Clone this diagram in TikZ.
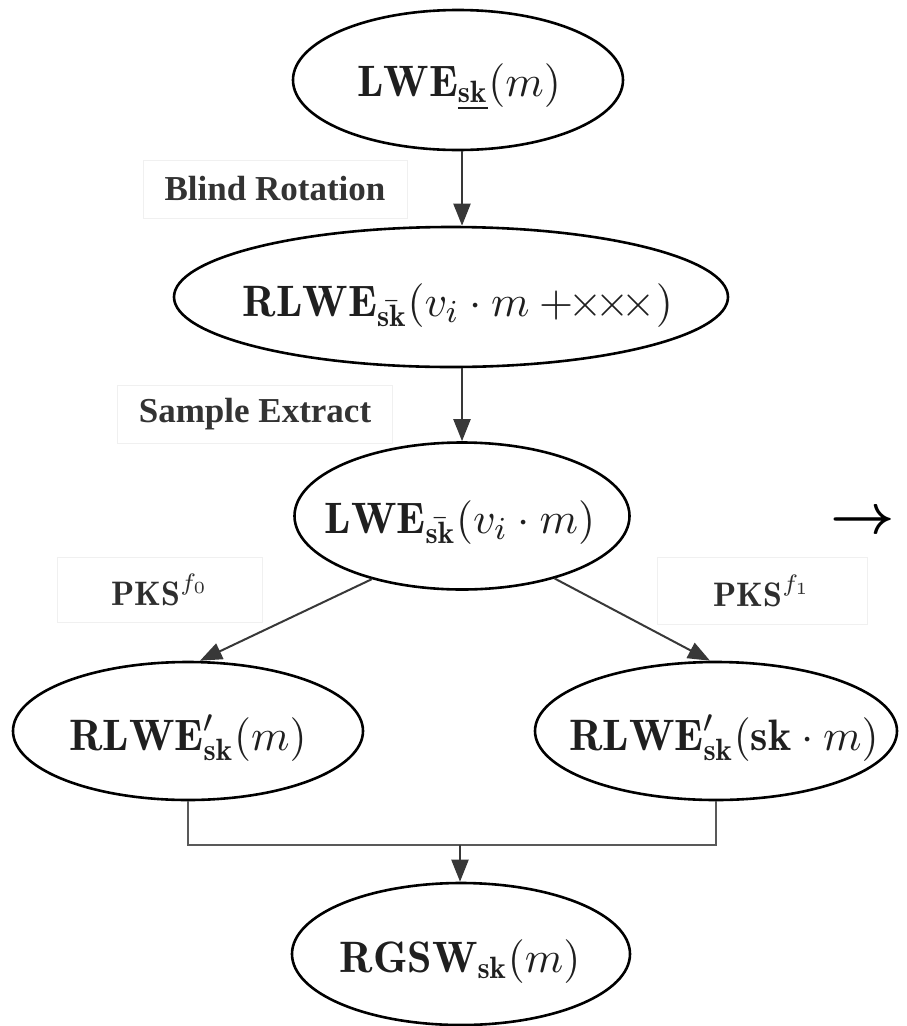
\documentclass[tikz,border=0pt]{standalone}
\usepackage{fontspec}
\usepackage{amsmath}
\usepackage{graphicx}
\newfontfamily\lblfont{Liberation Serif}
\newcommand{\mtxt}[1]{\scalebox{4}{\fontsize{11}{13}\selectfont #1}}
\newcommand{\ptxt}[1]{\scalebox{3.4}{\fontsize{10}{12}\selectfont #1}}
\usetikzlibrary{shapes.geometric,arrows.meta}
\begin{document}
\begin{tikzpicture}[x=1pt,y=-1pt,
  ell/.style 2 args={ellipse, draw=black, line width=2.6pt, minimum width=#1, minimum height=#2, inner sep=0pt},
  mtext/.style={text=black!88, anchor=base, inner sep=0pt},
  lbl/.style={draw=black!6, line width=1pt, font=\lblfont\bfseries\fontsize{35}{40}\selectfont, text=black!80, inner sep=0pt},
  pks/.style={draw=black!6, line width=1pt, text=black!82, inner sep=0pt},
  arr/.style={-{Triangle[length=22pt,width=17pt]}, line width=2pt, draw=black!78, fill=black!78},
  conn/.style={line width=2pt, draw=black!65}]
\useasboundingbox (0,0) rectangle (906,1026);
% nodes
\node[ell={330pt}{140pt}] (n1) at (458,80) {};
\node[mtext] (t1) at (459,96) {\mtxt{$\mathbf{LWE}_{\underline{\mathbf{sk}}}(m)$}};
\node[ell={554pt}{140pt}] (n2) at (451,297) {};
\node[mtext] (t2) at (458,316) {\mtxt{$\mathbf{RLWE}_{\bar{\mathbf{sk}}}(v_i\cdot m\mskip\medmuskip{+}\mkern-2mu{\times}\mkern-3mu{\times}\mkern-3mu{\times})$}};
\node[ell={335pt}{147pt}] (n3) at (462,516) {};
\node[mtext] (t3) at (460,533) {\mtxt{$\mathbf{LWE}_{\bar{\mathbf{sk}}}(v_i\cdot m)$}};
\node[ell={350pt}{138pt}] (n4) at (188,731) {};
\node[mtext] (t4) at (188,750) {\mtxt{$\mathbf{RLWE}'_{\mathbf{sk}}(m)$}};
\node[ell={362pt}{138pt}] (n5) at (716,731) {};
\node[mtext] (t5) at (724,750) {\mtxt{$\mathbf{RLWE}'_{\mathbf{sk}}(\mathbf{sk}\cdot m)$}};
\node[ell={338pt}{142pt}] (n6) at (461,954) {};
\node[mtext] (t6) at (460,972) {\mtxt{$\mathbf{RGSW}_{\mathbf{sk}}(m)$}};
% labels
\node[lbl, minimum width=264pt, minimum height=58pt] (br) at (275,189) {Blind Rotation};
\node[lbl, minimum width=275pt, minimum height=58pt] (se) at (255,414) {Sample Extract};
\node[pks, minimum width=205pt, minimum height=65pt] (p0) at (160,590) {\ptxt{$\mathbf{PKS}^{f_0}$}};
\node[pks, minimum width=210pt, minimum height=67pt] (p1) at (762,591) {\ptxt{$\mathbf{PKS}^{f_1}$}};
\node[inner sep=0pt] (rarrow) at (863,523) {\scalebox{5.6}{$\boldsymbol{\rightarrow}$}};
% connectors
\draw[arr] (n1.south -| n3.north) -- (n3.north |- n2.north);
\draw[arr] (n3.north |- n2.south) -- (n3.north);
\draw[arr] (n3.215) -- ([xshift=12pt]n4.north);
\draw[arr] (n3.326) -- ([xshift=-6pt]n5.north);
\coordinate (j) at (460,845);
\draw[conn] (n4.south) |- (j) -| (n5.south);
\draw[arr] (j) -- (j |- n6.north);
\end{tikzpicture}
\end{document}
